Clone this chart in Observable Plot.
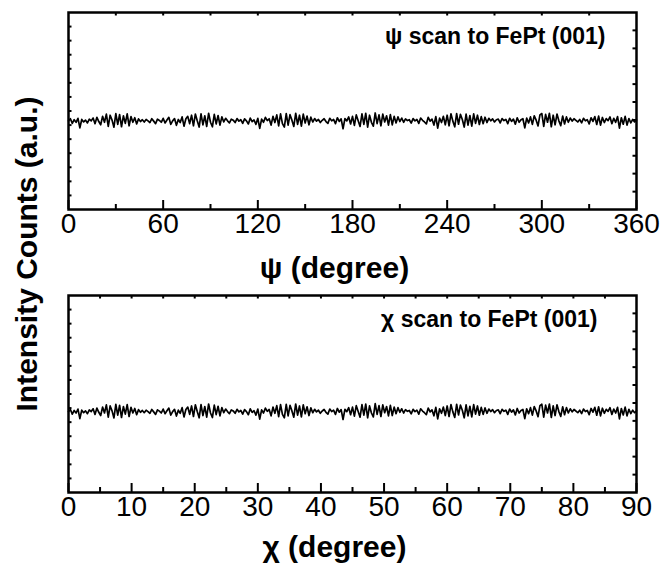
<!DOCTYPE html>
<html><head><meta charset="utf-8">
<script src="https://cdn.jsdelivr.net/npm/d3@7"></script>
<script src="https://cdn.jsdelivr.net/npm/@observablehq/plot@0.6"></script>
<style>
body{margin:0;background:#fff}
#wrap{position:relative;width:660px;height:566px;font-family:"Liberation Sans",Arial,sans-serif}
#wrap svg{position:absolute;left:0;overflow:visible}
</style>
</head><body><div id="wrap"></div>
<script>
// Intensity (a.u.); same pattern is seen in both scans
const counts = [
6.30,6.45,6.12,6.38,6.20,6.48,5.80,6.40,6.22,6.35,
6.15,6.42,6.30,6.50,6.10,6.55,6.25,6.02,6.62,6.20,
6.78,5.90,6.70,6.35,5.85,6.82,6.05,6.75,5.88,6.66,
6.12,6.80,5.95,6.60,6.20,6.52,6.08,6.44,6.25,6.38,
6.22,6.40,6.30,6.18,6.45,6.28,6.10,6.42,6.33,6.20,
6.48,6.15,6.36,6.55,6.05,6.30,6.46,5.98,6.40,6.18,
6.58,5.92,6.45,6.62,6.10,6.70,5.95,6.78,6.30,5.86,
6.80,6.02,6.66,5.90,6.84,6.20,5.88,6.76,6.08,6.68,
6.00,6.58,6.22,6.48,6.30,6.15,6.42,6.35,6.18,6.46,
6.28,6.38,6.12,6.44,6.30,6.08,6.50,6.24,6.36,6.05,
6.48,5.76,6.42,6.20,6.55,6.32,6.45,6.00,6.62,6.18,
6.72,5.94,6.80,6.10,5.86,6.82,6.00,6.74,6.35,5.90,
6.84,6.05,6.70,5.92,6.78,6.15,6.64,6.02,6.56,6.22,
6.46,6.28,6.40,6.18,6.34,6.45,6.25,6.12,6.48,6.30,
6.40,6.10,6.52,6.26,6.44,5.74,6.46,6.30,6.58,6.08,
6.62,5.98,6.72,6.30,5.90,6.80,6.05,6.84,5.86,6.70,
6.20,5.92,6.86,6.10,6.72,5.95,6.78,6.22,6.66,6.00,
6.74,6.02,6.62,6.15,6.58,6.25,6.50,6.20,6.44,6.32,
6.38,6.14,6.46,6.30,6.40,6.12,6.50,6.34,6.22,6.08,
6.55,6.28,6.42,6.00,6.60,5.78,6.50,6.18,6.62,6.02,
6.70,5.95,6.80,6.28,5.88,6.82,6.06,6.76,6.40,5.86,
6.78,6.00,6.68,5.92,6.80,6.12,6.70,6.04,6.60,6.10,
6.56,6.18,6.48,6.30,6.44,6.22,6.38,6.42,6.15,6.46,
6.32,6.40,6.10,6.48,6.26,6.42,6.06,6.52,6.20,6.38,
6.45,5.80,6.50,6.15,6.58,6.05,6.66,6.35,5.94,6.72,
6.82,5.90,6.76,6.20,6.84,5.88,6.70,6.02,6.78,6.30,
5.96,6.64,6.08,6.58,6.20,6.50,6.28,6.45,6.34,6.22,
6.40,6.16,6.48,6.30,6.38,6.08,6.52,6.26,6.60,6.04,
6.64,6.00,6.54,6.18,6.46,6.32,6.58,6.10,6.48,6.20,
6.60,5.78,6.52,6.06,6.62,6.00,6.46,6.16,6.40,6.22,6.36
];
const psiStep = 1.2;   // degrees per point, psi scan 0-360
const chiStep = 0.3;   // degrees per point, chi scan 0-90

const psiMajor = [0,60,120,180,240,300,360];
const psiMinor = [30,90,150,210,270,330];
const psiTop = [30,60,90,120,150,180,210,240,270,300,330];
const chiMajor = [0,10,20,30,40,50,60,70,80,90];
const chiMinor = [5,15,25,35,45,55,65,75,85];
const chiTop = [5,10,15,20,25,30,35,40,45,50,55,60,65,70,75,80,85];

const psiYDomain = [0,14];
const chiYDomain = [0.55,14.55];
const psiLeft = [1,2,3,4,5,6,7,8,9,10,11,12,13];
const psiRight = [1.27,2.55,3.82,5.09,6.36,7.64,8.91,10.18,11.45,12.73];
const chiLeft = [1.55,2.55,3.55,4.55,5.55,6.55,7.55,8.55,9.55,10.55,11.55,12.55,13.55];
const chiRight = [1.82,3.10,4.37,5.64,6.91,8.19,9.46,10.73,12.00,13.28];

const yTitle = "Intensity Counts (a.u.)";
const psiTitle = "ψ (degree)";
const chiTitle = "χ (degree)";
const psiNote = "ψ scan to FePt (001)";
const chiNote = "χ scan to FePt (001)";

const W = 660, H = 283, ML = 68, MR = 24, MT = 12, MB = 74;
const FW = W - ML - MR, FH = H - MT - MB;

function panel({step, xDomain, yDomain, major, minor, top, left, right, title, titleDy, note, noteDx}) {
  const data = counts.map((c, i) => ({x: i * step, y: c}));
  return Plot.plot({
    width: W, height: H,
    marginLeft: ML, marginRight: MR, marginTop: MT, marginBottom: MB,
    style: {fontFamily: "'Liberation Sans', Arial, sans-serif", fontSize: "28px", color: "black", background: "transparent", overflow: "visible"},
    x: {domain: xDomain},
    y: {domain: yDomain, axis: null},
    marks: [
      Plot.line(data, {x: "x", y: "y", stroke: "black", strokeWidth: 1.7}),
      Plot.tickX(major, {x: d => d, insetTop: FH - 9, stroke: "black", strokeWidth: 2}),
      Plot.tickX(minor, {x: d => d, insetTop: FH - 5, stroke: "black", strokeWidth: 2}),
      Plot.tickX(top, {x: d => d, insetBottom: FH - 3.5, stroke: "black", strokeWidth: 2}),
      Plot.tickY(left, {y: d => d, insetRight: FW - 3.5, stroke: "black", strokeWidth: 2}),
      Plot.tickY(right, {y: d => d, insetLeft: FW - 3.5, stroke: "black", strokeWidth: 2}),
      Plot.frame({stroke: "black", strokeWidth: 2.5}),
      Plot.axisX({ticks: major, tickSize: 0, tickPadding: 4, fontSize: 28, label: null, tickFormat: d => String(d)}),
      Plot.text([note], {text: d => d, frameAnchor: "top-right", textAnchor: "end", lineAnchor: "top", dx: noteDx, dy: 15, fontWeight: "bold", fontSize: 23}),
      Plot.text([title], {text: d => d, frameAnchor: "bottom", lineAnchor: "top", dx: -18, dy: titleDy, fontWeight: "bold", fontSize: 30})
    ]
  });
}

const wrap = document.getElementById("wrap");
const p1 = panel({step: psiStep, xDomain: [0,360], yDomain: psiYDomain, major: psiMajor, minor: psiMinor, top: psiTop, left: psiLeft, right: psiRight, title: psiTitle, titleDy: 47, note: psiNote, noteDx: -31});
const p2 = panel({step: chiStep, xDomain: [0,90], yDomain: chiYDomain, major: chiMajor, minor: chiMinor, top: chiTop, left: chiLeft, right: chiRight, title: chiTitle, titleDy: 43, note: chiNote, noteDx: -39});
p1.style.top = "0px";
p2.style.top = H + "px";
wrap.appendChild(p1);
wrap.appendChild(p2);

const ov = d3.create("svg").attr("width", W).attr("height", 566).style("top", "0px").style("pointer-events", "none");
ov.append("text")
  .attr("transform", "translate(37,254) rotate(-90)")
  .attr("text-anchor", "middle")
  .attr("font-family", "'Liberation Sans', Arial, sans-serif")
  .attr("font-weight", "bold")
  .attr("font-size", 30)
  .attr("fill", "black")
  .text(yTitle);
wrap.appendChild(ov.node());
</script>
</body></html>
